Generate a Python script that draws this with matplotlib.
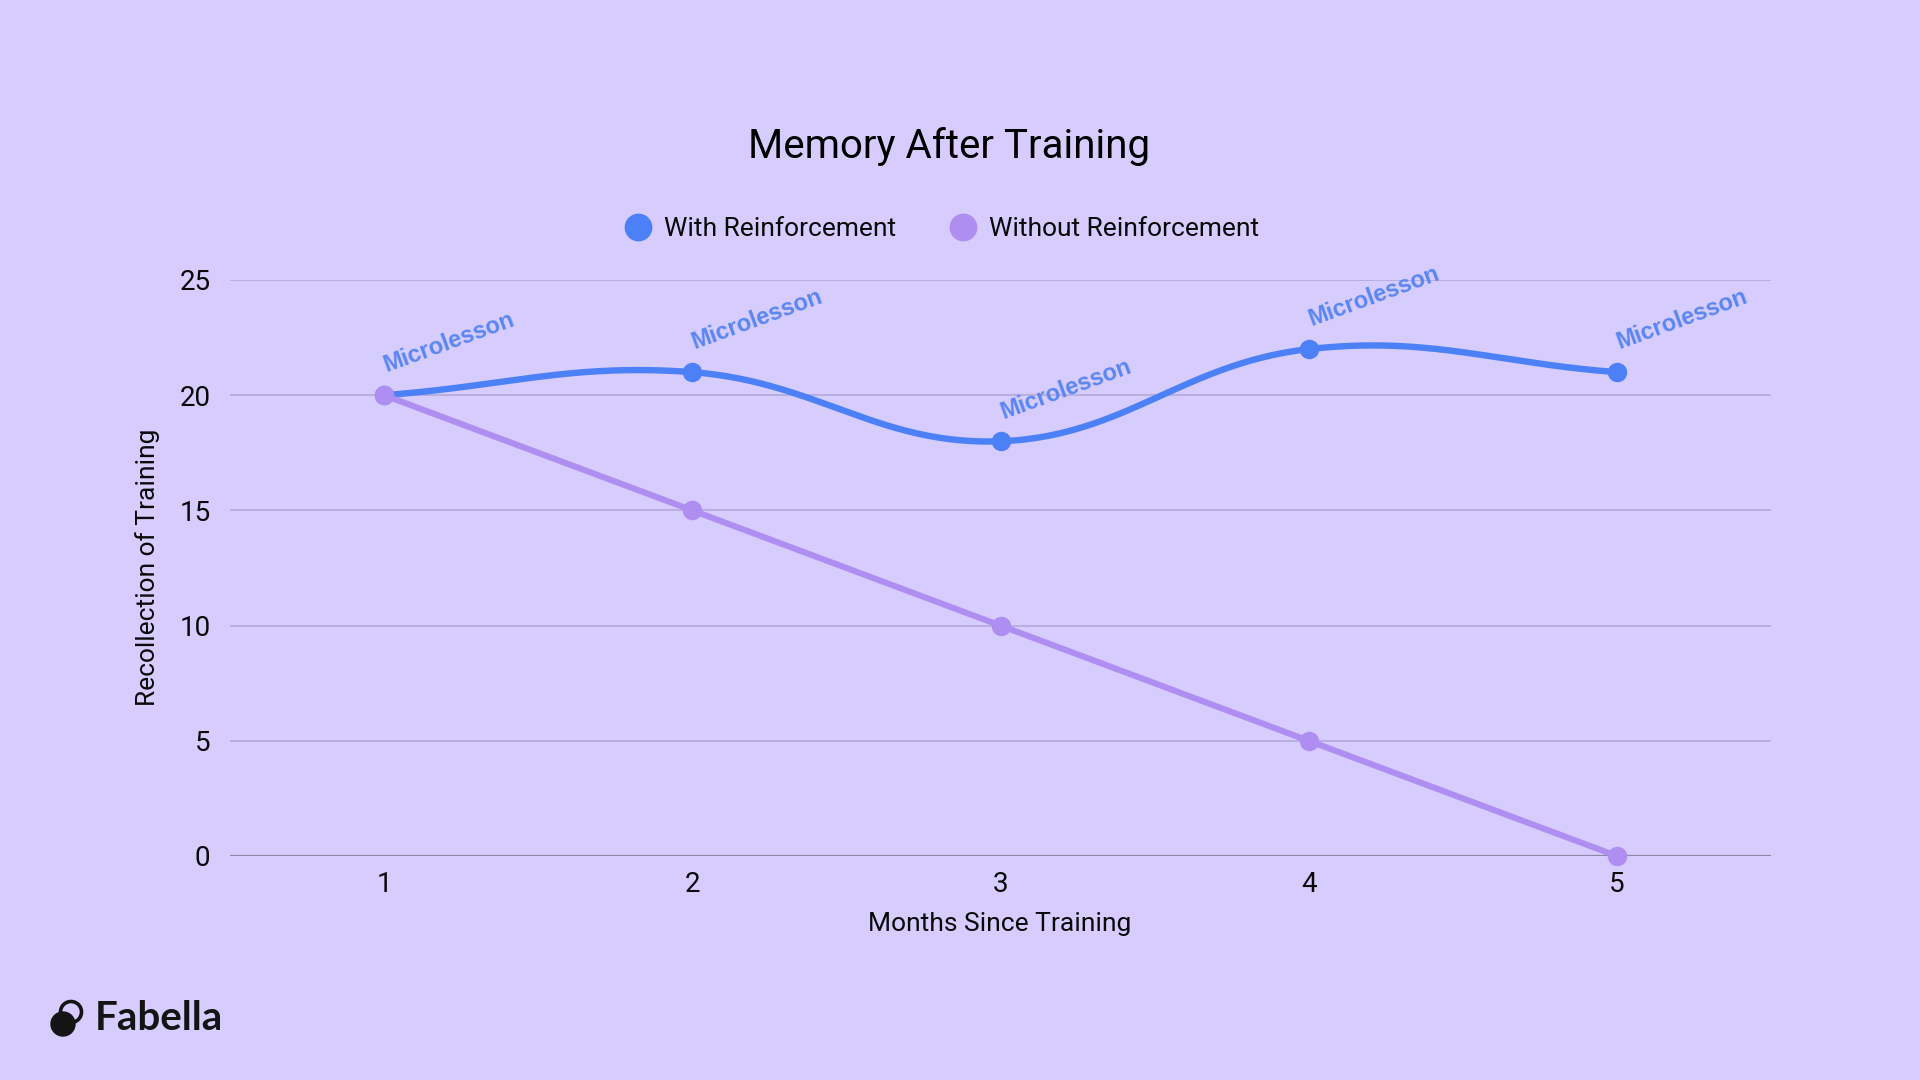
import numpy as np
import matplotlib
matplotlib.use("Agg")
import matplotlib.pyplot as plt
from matplotlib.lines import Line2D
from matplotlib.patches import Circle

# ---- data ----
months = [1, 2, 3, 4, 5]
with_reinf = [20, 21, 18, 22, 21]
without_reinf = [20, 15, 10, 5, 0]
y_ticks = [0, 5, 10, 15, 20, 25]
annot_text = "Microlesson"
title = "Memory After Training"
xlabel = "Months Since Training"
ylabel = "Recollection of Training"
series_names = ["With Reinforcement", "Without Reinforcement"]

BG = "#D6CCFE"
BLUE = "#4B80F7"
PURPLE = "#AE8EF1"
ANN = "#5A86F1"
GRID = "#B2A8DC"
ZERO = "#8F89A8"
TXT = "#0A0A0A"

plt.rcParams['font.family'] = ['Roboto', 'DejaVu Sans']
WT = 'normal'

fig = plt.figure(figsize=(19.2, 10.8), dpi=100, facecolor=BG)
W, H = 1920, 1080
ax = fig.add_axes([230 / W, 1 - 856 / H, (1771 - 230) / W, (856 - 280) / H])
ax.set_facecolor(BG)
ax.set_xlim(0.5, 5.5)
ax.set_ylim(0, 25)
for s in ax.spines.values():
    s.set_visible(False)
ax.set_yticks(y_ticks)
ax.set_xticks(months)
ax.tick_params(axis='both', length=0, labelsize=20, labelcolor=TXT)
ax.tick_params(axis='y', pad=14)
ax.tick_params(axis='x', pad=11)
for lab in ax.get_xticklabels() + ax.get_yticklabels():
    lab.set_fontweight(WT)
for yv in y_ticks:
    ax.axhline(yv, color=ZERO if yv == 0 else GRID, lw=1.6 if yv == 0 else 1.2, zorder=1)


# Chart.js-style spline (tension 0.4) computed in display space
def spline_points(xs, ys, t=0.4, n=60):
    P = ax.transData.transform(np.column_stack([xs, ys]))
    m = len(P)
    cps_prev, cps_next = [], []
    for i in range(m):
        prev = P[i - 1] if i > 0 else P[i]
        nxt = P[i + 1] if i < m - 1 else P[i]
        d01 = np.hypot(*(P[i] - prev))
        d12 = np.hypot(*(nxt - P[i]))
        tot = d01 + d12
        s01 = d01 / tot if tot else 0
        s12 = d12 / tot if tot else 0
        cps_prev.append(P[i] - t * s01 * (nxt - prev))
        cps_next.append(P[i] + t * s12 * (nxt - prev))
    out = []
    u = np.linspace(0, 1, n)[:, None]
    for i in range(m - 1):
        p0, p1, p2, p3 = P[i], cps_next[i], cps_prev[i + 1], P[i + 1]
        seg = ((1 - u) ** 3) * p0 + 3 * ((1 - u) ** 2) * u * p1 + 3 * (1 - u) * u ** 2 * p2 + u ** 3 * p3
        out.append(seg if i == 0 else seg[1:])
    out = np.vstack(out)
    return ax.transData.inverted().transform(out)


curve = spline_points(months, with_reinf)
ax.plot(curve[:, 0], curve[:, 1], color=BLUE, lw=4.6, solid_capstyle='round', zorder=3, clip_on=False)
ax.plot(months, with_reinf, 'o', color=BLUE, ms=13, zorder=4, clip_on=False)
ax.plot(months, without_reinf, color=PURPLE, lw=4.4, solid_capstyle='round', zorder=5, clip_on=False)
ax.plot(months, without_reinf, 'o', color=PURPLE, ms=13, zorder=6, clip_on=False)

for xv, yv in zip(months, with_reinf):
    ax.annotate(annot_text, (xv, yv), xytext=(3, 13), textcoords='offset points',
                ha='left', va='bottom', rotation=20, rotation_mode='anchor',
                fontsize=17, fontweight='bold', color=ANN, zorder=7,
                family=['Liberation Sans', 'DejaVu Sans'])

fig.text(949 / W, 1 - 147 / H, title, ha='center', va='center', fontsize=29,
         fontweight=WT, color='#000000')
fig.text(1000 / W, 1 - 924 / H, xlabel, ha='center', va='center', fontsize=19,
         fontweight=WT, color=TXT)
fig.text(148 / W, 1 - 567 / H, ylabel, ha='center', va='center', rotation=90,
         fontsize=19, fontweight=WT, color=TXT)

handles = [Line2D([], [], marker='o', ls='', color=BLUE, ms=19),
           Line2D([], [], marker='o', ls='', color=PURPLE, ms=19)]
leg = fig.legend(handles, series_names, loc='center', bbox_to_anchor=(942 / W, 1 - 229 / H),
                 ncol=2, frameon=False, handlelength=1.0, handletextpad=0.5,
                 columnspacing=2.0, prop={'size': 19, 'weight': WT})
for t_ in leg.get_texts():
    t_.set_color(TXT)

# logo
lax = fig.add_axes([44 / W, 1 - 1040 / H, 44 / W, 44 / H])
lax.set_xlim(0, 44)
lax.set_ylim(0, 44)
lax.set_aspect('equal')
lax.axis('off')
lax.add_patch(Circle((27, 28), 10.5, fill=False, lw=2.6, ec='#141414'))
lax.add_patch(Circle((19, 16), 12, color='#141414'))
fig.text(95 / W, 1 - 1019 / H, "Fabella", ha='left', va='center', fontsize=29,
         fontweight='bold', color='#141414', family=['Lato', 'DejaVu Sans'])

fig.savefig("out.png", dpi=100, facecolor=BG)
